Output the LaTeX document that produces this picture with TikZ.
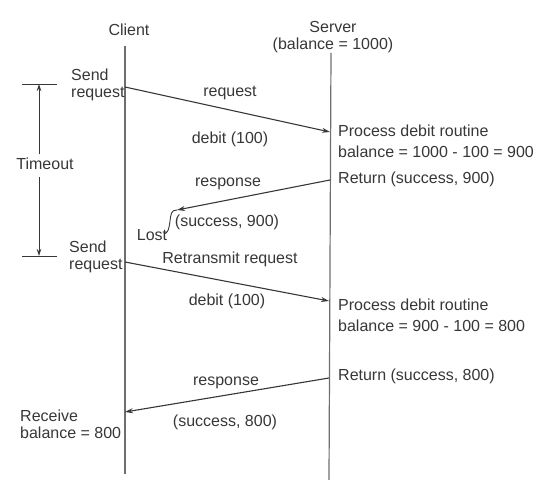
\documentclass[tikz,border=0pt]{standalone}
\usepackage{fontspec}
\setmainfont{Liberation Sans}
\usetikzlibrary{arrows.meta}
\definecolor{inkgray}{RGB}{55,55,55}
\definecolor{linegray}{RGB}{110,110,110}

\begin{document}
\begin{tikzpicture}[
    x=1pt, y=-1pt,
    lbl/.style={inner sep=0pt, text=inkgray, font=\fontsize{16}{17}\selectfont,
                text height=11.5pt, text depth=3.5pt},
    note/.style={inner sep=0pt, text=inkgray, font=\fontsize{16}{17}\selectfont,
                 anchor=west, align=left},
    lifeline/.style={line width=1.2pt, color=linegray},
    msg/.style={line width=1.1pt, color=inkgray, -{Stealth[length=8pt, width=5pt]}},
    bar/.style={line width=0.9pt, color=inkgray},
    span/.style={line width=0.9pt, color=inkgray, -{Stealth[length=7pt, width=4.5pt]}},
]
\useasboundingbox (0,0) rectangle (550,486);

% Lifelines
\node[lbl] (client) at (129,32) {Client};
\node[note, anchor=center, align=center] (server) at (333,37) {Server\\(balance = 1000)};

\coordinate (ctop) at (125,46);
\coordinate (cbot) at (125,474);
\coordinate (stop) at (331,53);
\coordinate (sbot) at (329,480);
\draw[lifeline] (ctop) -- (cbot);
\draw[lifeline] (stop) -- (sbot);

% Timeout span
\coordinate (ttop) at (39,84);
\coordinate (tbot) at (39,256);
\node[lbl, outer sep=4pt] (timeout) at (45,166) {Timeout};
\draw[bar] ([xshift=-17pt]ttop) -- ([xshift=18pt]ttop);
\draw[bar] ([xshift=-17pt]tbot) -- ([xshift=18pt]tbot);
\draw[span] (timeout.north -| ttop) -- (ttop);
\draw[span] (timeout.south -| tbot) -- (tbot);

% First request
\node[note] (send1) at (71,85) {Send\\request};
\coordinate (req1a) at (125,87);
\coordinate (req1b) at (330,132);
\draw[msg] (req1a) -- (req1b);
\node[lbl] (req1) at (230,93) {request};
\node[lbl] (debit1) at (230,140) {debit (100)};

\node[lbl, anchor=west] (proc1) at (338,133) {Process debit routine};
\node[lbl, anchor=west] (bal1) at (338,154) {balance = 1000 - 100 = 900};
\node[lbl, anchor=west] (ret1) at (338,180) {Return (success, 900)};

% First response, lost
\coordinate (res1a) at (330,180);
\coordinate (lost) at (177,210);
\draw[msg] (res1a) -- (lost);
\draw[bar] (lost) .. controls (171,210) and (171,214) .. (170,221)
               .. controls (169,229) and (168,233) .. (164,234);
\node[lbl] (res1) at (228,183) {response};
\node[lbl] (succ1) at (227,223) {(success, 900)};
\node[lbl] (lostlbl) at (152,237) {Lost};

% Retransmitted request
\node[note] (send2) at (69,257) {Send\\request};
\coordinate (req2a) at (125,262);
\coordinate (req2b) at (329,301);
\draw[msg] (req2a) -- (req2b);
\node[lbl] (req2) at (230,260) {Retransmit request};
\node[lbl] (debit2) at (227,302) {debit (100)};

\node[lbl, anchor=west] (proc2) at (338,307) {Process debit routine};
\node[lbl, anchor=west] (bal2) at (338,328) {balance = 900 - 100 = 800};
\node[lbl, anchor=west] (ret2) at (338,377) {Return (success, 800)};

% Second response
\coordinate (res2a) at (329,378);
\coordinate (res2b) at (125,412);
\draw[msg] (res2a) -- (res2b);
\node[lbl] (res2) at (226,382) {response};
\node[lbl] (succ2) at (225,423) {(success, 800)};
\node[note] (recv) at (20,424) {Receive\\balance = 800};

\end{tikzpicture}
\end{document}
